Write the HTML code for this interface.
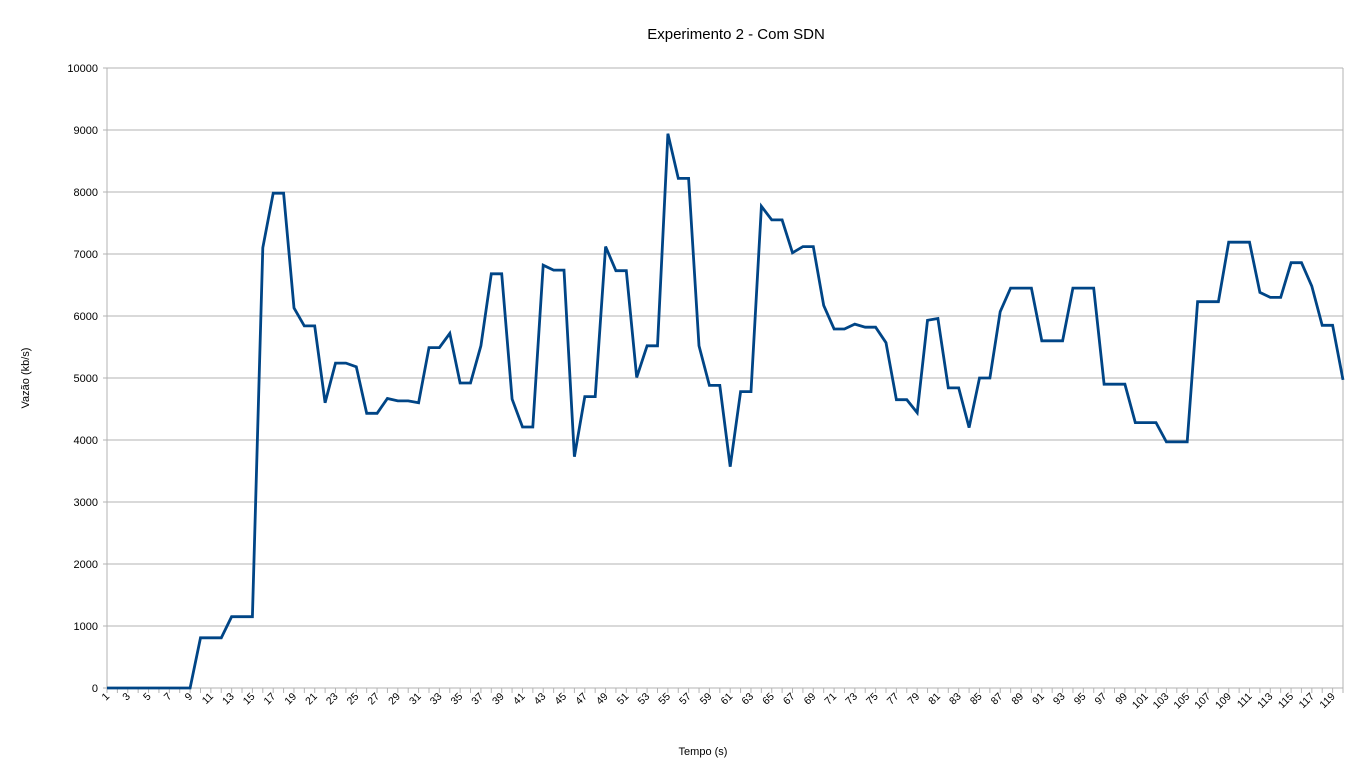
<!DOCTYPE html>
<html><head><meta charset="utf-8"><style>
body{margin:0;background:#fff;font-family:"Liberation Sans",sans-serif}
</style></head><body>
<svg id="chart" width="1371" height="771" xmlns="http://www.w3.org/2000/svg" font-family="Liberation Sans, sans-serif">
<rect width="1371" height="771" fill="#fff"/>
<text x="736" y="39" text-anchor="middle" font-size="15" fill="#000">Experimento 2 - Com SDN</text>
<text x="29" y="378" text-anchor="middle" font-size="11" transform="rotate(-90 29 378)">Vazão (kb/s)</text>
<text x="703" y="755" text-anchor="middle" font-size="11">Tempo (s)</text>
<g id="grid"></g><g id="yticks"></g><g id="xticks"></g><g id="series"></g>
</svg>
<script>
const values=[0,0,0,0,0,0,0,0,0,810,810,810,1150,1150,1150,7100,7980,7980,6130,5840,5840,4600,5240,5240,5180,4430,4430,4670,4630,4630,4600,5490,5490,5720,4920,4920,5520,6680,6680,4660,4210,4210,6820,6740,6740,3730,4700,4700,7120,6730,6730,5010,5520,5520,8940,8220,8220,5520,4880,4880,3570,4780,4780,7770,7550,7550,7020,7120,7120,6170,5790,5790,5870,5820,5820,5570,4650,4650,4440,5930,5960,4840,4840,4200,5000,5000,6070,6450,6450,6450,5600,5600,5600,6450,6450,6450,4900,4900,4900,4280,4280,4280,3970,3970,3970,6230,6230,6230,7190,7190,7190,6380,6300,6300,6860,6860,6480,5850,5850,4970];
const categories=values.map((v,i)=>i+1);
const yTicks=[0,1000,2000,3000,4000,5000,6000,7000,8000,9000,10000];
const NS="http://www.w3.org/2000/svg";
const L=107,R=1343,T=68,B=688;
const x=i=>L+i*(R-L)/(categories.length-1);
const y=v=>B-(v/10000)*(B-T);
function mk(tag,attrs,parent){const e=document.createElementNS(NS,tag);for(const k in attrs)e.setAttribute(k,attrs[k]);document.getElementById(parent).appendChild(e);return e;}
yTicks.forEach(t=>{
  const g=mk('line',{x1:L-4,x2:R,y1:y(t),y2:y(t),stroke:'#b3b3b3','stroke-width':1},'grid');
  
  
  const tx=mk('text',{x:L-9,y:y(t)+4,'text-anchor':'end','font-size':11},'yticks');
  tx.textContent=t;
  
  
});
const ax=mk('line',{x1:L,x2:L,y1:T,y2:B,stroke:'#b3b3b3'},'grid');


const ax2=mk('line',{x1:R,x2:R,y1:T,y2:B,stroke:'#b3b3b3'},'grid');


categories.forEach((c,i)=>{
  const tk=mk('line',{x1:x(i),x2:x(i),y1:B,y2:B+5,stroke:'#b3b3b3'},'xticks');
  
  
  if(i%2===0){
    const px=x(i)+3,py=B+9;
    const t=mk('text',{x:px,y:py,'text-anchor':'end','font-size':10.5,transform:`rotate(-45 ${px} ${py})`},'xticks');
    t.textContent=c;
    
    
  }
});
const pts=values.map((v,i)=>x(i).toFixed(1)+','+y(v).toFixed(1)).join(' ');
const pl=mk('polyline',{points:pts,fill:'none',stroke:'#004586','stroke-width':2.8,'stroke-linejoin':'miter'},'series');


</script>
</body></html>
